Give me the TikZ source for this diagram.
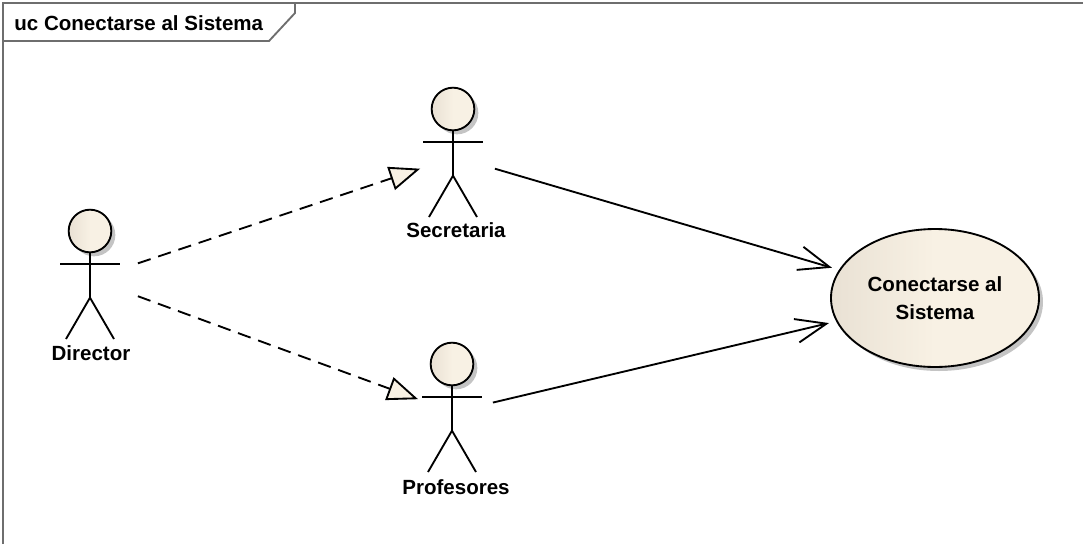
\documentclass[tikz,border=0pt]{standalone}
\usepackage{fontspec}
\setmainfont{Liberation Sans}
\usetikzlibrary{arrows.meta,shapes.geometric}
\definecolor{umlfill}{HTML}{F8F1E4}
\definecolor{umlleft}{HTML}{E9E1D4}
\definecolor{umlshadow}{HTML}{C4C4C4}
\definecolor{umlline}{HTML}{6E6E6E}
\tikzset{
  actorbox/.style = {minimum width = 58.5pt, minimum height = 90pt, inner sep = 0pt},
  label/.style = {font = \bfseries\fontsize{15.4}{18}\selectfont, align = center},
  generalize/.style = {dash pattern = on 10pt off 6pt, shorten >= -4pt, -{Triangle[fill = umlfill, length = 23pt, width = 18pt]}},
  assoc/.style = {shorten >= 5.5pt, -{Straight Barb[length = 23pt, width = 18pt]}},
  actor/.pic = {
    \fill[umlshadow] (3pt,-3pt) circle (16pt);
    \draw[left color = umlleft, right color = umlfill, middle color = umlfill] (0,0) circle (16pt);
    \draw (-22.5pt,-25pt) -- (22.5pt,-25pt);
    \draw (0,-16pt) -- (0,-50pt) -- (-18pt,-81pt);
    \draw (0,-50pt) -- (18pt,-81pt);
  }
}
\begin{document}
\begin{tikzpicture}[x = 0.75pt, y = -0.75pt, line width = 1.4pt]
   \useasboundingbox (0,0) rectangle (1083,544);
   % frame and tab
   \draw[umlline] (3,544) -- (3,3) -- (1083,3);
   \draw[umlline] (3,41) -- (269,41) -- (295,13) -- (295,3);
   \node[label, anchor = west] (Title) at (9,23) {uc Conectarse al Sistema};
   % actors
   \pic at (90,231) {actor};
   \pic at (453,109) {actor};
   \pic at (452,364) {actor};
   \node[actorbox, minimum width = 69pt] (Director) at (91,279) {};
   \node[actorbox] (Secretaria) at (455,157) {};
   \node[actorbox] (Profesores) at (453,412) {};
   \node[label] (DirectorText) at (91,353) {Director};
   \node[label] (SecretariaText) at (456,230) {Secretaria};
   \node[label] (ProfesoresText) at (456,487) {Profesores};
   % use case
   \fill[umlshadow] (939,302) ellipse [x radius = 104, y radius = 69];
   \node[ellipse, draw, left color = umlleft, right color = umlfill, middle color = umlfill, minimum width = 156pt, minimum height = 103.5pt, inner sep = 0pt, label] (Conectarse) at (935,298) {Conectarse al\\[3pt]Sistema};
   % connectors
   \draw[generalize] (Director) -- (Secretaria);
   \draw[generalize] (Director) -- (Profesores);
   \draw[assoc] (Secretaria) -- (Conectarse);
   \draw[assoc] (Profesores) -- (Conectarse);
\end{tikzpicture}
\end{document}
